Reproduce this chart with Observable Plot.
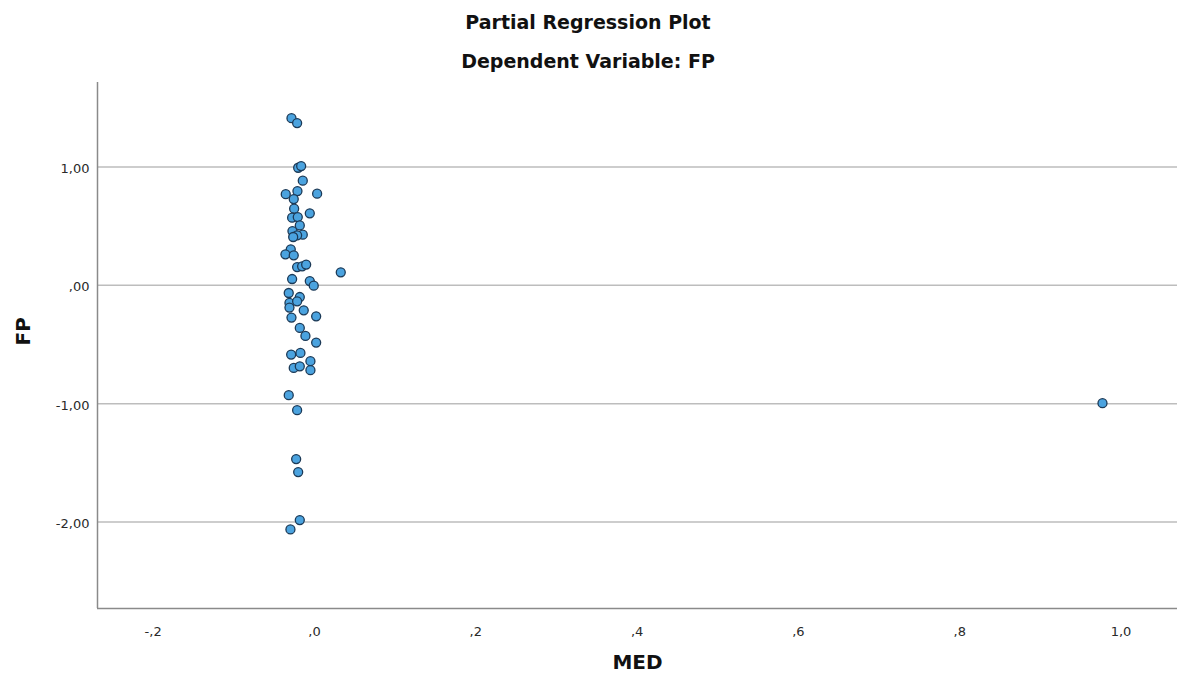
<!DOCTYPE html>
<html>
<head>
<meta charset="utf-8">
<script src="https://cdn.jsdelivr.net/npm/d3@7"></script>
<script src="https://cdn.jsdelivr.net/npm/@observablehq/plot@0.6"></script>
<style>
  html, body { margin: 0; padding: 0; background: #fff; }
  body { width: 1177px; height: 684px; overflow: hidden; font-family: "DejaVu Sans", sans-serif; }
  .hdr { height: 78px; position: relative; }
  .t { position: absolute; left: 0; width: 1176px; text-align: center; font-weight: bold; font-size: 19px; line-height: 19px; color: #111; white-space: nowrap; }
  .t1 { top: 13px; }
  .t2 { top: 52px; }
</style>
</head>
<body>
<div class="hdr">
  <div class="t t1">Partial Regression Plot</div>
  <div class="t t2">Dependent Variable: FP</div>
</div>
<div id="chart"></div>
<script>
// Partial residuals of MED (x) and FP (y)
const medValues = [
  -0.0285, -0.0215, -0.0202, -0.0165, -0.0145, -0.0356, -0.0211, -0.0257, 0.0033, -0.0252,
  -0.0058, -0.0277, -0.0207, -0.0182, -0.0273, -0.0145, -0.0215, -0.0264, -0.0294, -0.0360,
  -0.0257, -0.0215, -0.0153, -0.0103, 0.0326, -0.0277, -0.0058, -0.0009, -0.0319, -0.0182,
  -0.0310, -0.0215, -0.0310, -0.0133, 0.0021, -0.0285, -0.0182, -0.0112, 0.0021, -0.0289,
  -0.0174, -0.0050, -0.0257, -0.0182, -0.0050, -0.0319, -0.0215, -0.0227, -0.0202, -0.0182,
  -0.0298, 0.977
];
const fpValues = [
  1.412, 1.370, 0.993, 1.007, 0.884, 0.770, 0.796, 0.728, 0.774, 0.647,
  0.608, 0.571, 0.576, 0.506, 0.458, 0.428, 0.422, 0.408, 0.304, 0.262,
  0.253, 0.154, 0.160, 0.175, 0.110, 0.053, 0.036, -0.003, -0.065, -0.099,
  -0.149, -0.135, -0.188, -0.211, -0.262, -0.273, -0.360, -0.428, -0.484, -0.585,
  -0.571, -0.641, -0.698, -0.684, -0.717, -0.928, -1.055, -1.468, -1.578, -1.983,
  -2.062, -0.996
];
const xTicks = [-0.2, 0, 0.2, 0.4, 0.6, 0.8, 1.0];
const yTicks = [-2, -1, 0, 1];
const xLabel = "MED";
const yLabel = "FP";

const data = medValues.map((x, i) => ({x, y: fpValues[i]}));

function fmt(d, n) {
  let s = d.toFixed(n);
  s = s.replace(/^(-?)0\./, "$1.");
  return s.replace(".", ",");
}

const xDomain = [-0.269, 1.07];
const yDomain = [-2.73, 1.713];

const chart = Plot.plot({
  width: 1177,
  height: 606,
  marginTop: 4,
  marginBottom: 76,
  marginLeft: 97,
  marginRight: 0,
  style: { fontFamily: "DejaVu Sans, sans-serif", fontSize: "13px", color: "#2a2a2a", background: "#fff" },
  x: { domain: xDomain, ticks: xTicks },
  y: { domain: yDomain, ticks: yTicks },
  marks: [
    Plot.gridY(yTicks, { stroke: "#bdbdbd", strokeOpacity: 1, strokeWidth: 1.5 }),
    Plot.axisX(xTicks, { tickSize: 0, tickPadding: 18, tickFormat: d => fmt(d, 1), label: null, fontSize: 13 }),
    Plot.axisY(yTicks, { tickSize: 0, tickPadding: 8, dy: 2, tickFormat: d => fmt(d, 2), label: null, fontSize: 13 }),
    Plot.ruleX([xDomain[0]], { stroke: "#8a8a8a", strokeWidth: 1.5 }),
    Plot.ruleY([yDomain[0]], { stroke: "#8a8a8a", strokeWidth: 1.5 }),
    Plot.dot(data, { x: "x", y: "y", r: 4.5, fill: "#4ba3df", stroke: "#1c3a57", strokeWidth: 1.3 }),
    Plot.text([xLabel], { frameAnchor: "bottom", dy: 60, text: d => d, fontSize: 20, fontWeight: "bold", fill: "#111" }),
    Plot.text([yLabel], { frameAnchor: "left", dx: -74, text: d => d, rotate: -90, fontSize: 20, fontWeight: "bold", fill: "#111" })
  ]
});
document.getElementById("chart").appendChild(chart);
</script>
</body>
</html>
